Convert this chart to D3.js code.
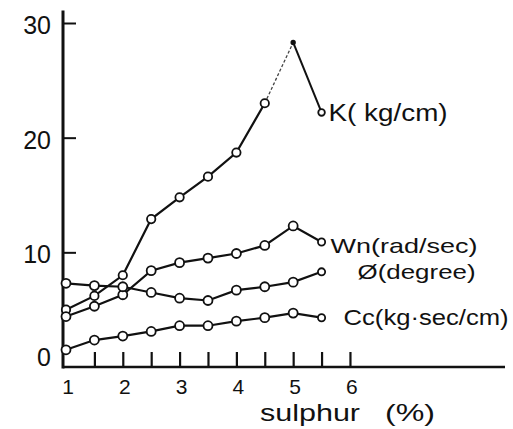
<!DOCTYPE html>
<html>
<head>
<meta charset="utf-8">
<script src="https://cdn.jsdelivr.net/npm/d3@7"></script>
<style>
  html, body { margin: 0; padding: 0; background: #fff; }
  svg { display: block; }
</style>
</head>
<body>
<div id="chart"></div>
<script>
// Sulphur content vs. dynamic properties (scanned line chart).

const sulphur = [1, 1.5, 2, 2.5, 3, 3.5, 4, 4.5, 5, 5.5];

const kValues   = [5.0, 6.2, 8.0, 12.9, 14.8, 16.6, 18.7, 23.0, 28.3, 22.2];
const wnValues  = [4.4, 5.3, 6.3, 8.4, 9.1, 9.5, 9.9, 10.6, 12.3, 10.9];
const phiValues = [7.3, 7.1, 7.0, 6.5, 6.0, 5.8, 6.7, 7.0, 7.4, 8.3];
const ccValues  = [1.5, 2.35, 2.7, 3.1, 3.6, 3.6, 4.0, 4.3, 4.7, 4.3];

const seriesNames = ["K( kg/cm)", "Wn(rad/sec)", "\u00D8(degree)", "Cc(kg\u00B7sec/cm)"];

const yTickValues = [0, 10, 20, 30];
const xTickValues = [1, 1.5, 2, 2.5, 3, 3.5, 4, 4.5, 5, 5.5, 6];
const xLabelValues = [1, 2, 3, 4, 5, 6];
const xTitle = "sulphur";
const xUnit = "(%)";

const W = 513, H = 429;
const INK = "#111";
const FONT = "'Liberation Sans', Arial, sans-serif";

const x = d3.scaleLinear().domain([1, 8.73]).range([66, 505]);
const y = d3.scaleLinear().domain([0, 30]).range([367, 23]);

const svg = d3.select("#chart").append("svg")
  .attr("width", W).attr("height", H)
  .attr("viewBox", `0 0 ${W} ${H}`)
  .attr("font-family", FONT);

// Axes: ticks point inward, the frame line is drawn separately so it
// can run past the last label like in the scan.
const gx = svg.append("g")
  .attr("transform", `translate(0,${y(0)})`)
  .call(d3.axisBottom(x)
    .tickValues(xTickValues.slice(1))
    .tickSizeInner(-15).tickSizeOuter(0)
    .tickFormat(""));
gx.select(".domain").remove();
gx.selectAll(".tick line").attr("stroke", INK).attr("stroke-width", 2.2);

const gy = svg.append("g")
  .attr("transform", `translate(${x(1) - 3},0)`)
  .call(d3.axisLeft(y)
    .tickValues(yTickValues)
    .tickSizeInner(-13).tickSizeOuter(0)
    .tickPadding(12)
    .tickFormat(d3.format("d")));
gy.select(".domain").remove();
gy.selectAll(".tick line")
  .attr("stroke", INK).attr("stroke-width", 2)
  .attr("display", (d) => (d === 0 ? "none" : null));
gy.selectAll(".tick text")
  .attr("font-family", FONT)
  .attr("font-size", 25)
  .attr("fill", INK)
  .attr("dy", (d) => (d === 0 ? "-0.05em" : "0.42em"));

// Frame lines
svg.append("line")
  .attr("x1", x(1) - 3).attr("x2", x(1) - 3)
  .attr("y1", y(31.1)).attr("y2", y(0) + 1.5)
  .attr("stroke", INK).attr("stroke-width", 3);
svg.append("line")
  .attr("x1", x(1) - 3).attr("x2", x.range()[1])
  .attr("y1", y(0)).attr("y2", y(0))
  .attr("stroke", INK).attr("stroke-width", 2.6);

// X tick labels and title
svg.append("g").selectAll("text")
  .data(xLabelValues)
  .join("text")
    .attr("x", (d) => x(d) + 2)
    .attr("y", 394)
    .attr("text-anchor", "middle")
    .attr("font-size", 21)
    .attr("fill", INK)
    .text((d) => d);

const title = svg.append("text")
  .attr("y", 421)
  .attr("font-size", 24)
  .attr("fill", INK);
title.append("tspan").attr("x", 260).attr("textLength", 100).attr("lengthAdjust", "spacingAndGlyphs").text(xTitle);
title.append("tspan").attr("x", 385).attr("textLength", 50).attr("lengthAdjust", "spacingAndGlyphs").text(xUnit);

// Series
const series = [
  { name: seriesNames[0], values: kValues,   dx: 7,  dy: 9,  size: 23, len: 119, r: 4.2, endR: 3.3 },
  { name: seriesNames[1], values: wnValues,  dx: 9,  dy: 11, size: 21, len: 147, r: 4.5, endR: 3.6 },
  { name: seriesNames[2], values: phiValues, dx: 36, dy: 7,  size: 21, len: 118, r: 4.5, endR: 3.6 },
  { name: seriesNames[3], values: ccValues,  dx: 22, dy: 7,  size: 22, len: 165, r: 4.5, endR: 3.6 },
];

const line = d3.line().x((d) => x(d[0])).y((d) => y(d[1]));

for (const s of series) {
  const pts = sulphur.map((v, i) => [v, s.values[i]]);
  const g = svg.append("g").attr("class", "series");

  if (s === series[0]) {
    // The scan is faded around the K peak: draw that stretch lighter.
    g.append("path").datum(pts.slice(0, 8))
      .attr("d", line).attr("fill", "none")
      .attr("stroke", INK).attr("stroke-width", 2.2);
    g.append("path").datum(pts.slice(7, 9))
      .attr("d", line).attr("fill", "none")
      .attr("stroke", "#444").attr("stroke-width", 1.3)
      .attr("stroke-dasharray", "3 2");
    g.append("path").datum(pts.slice(8))
      .attr("d", line).attr("fill", "none")
      .attr("stroke", INK).attr("stroke-width", 2);
  } else {
    g.append("path").datum(pts)
      .attr("d", line).attr("fill", "none")
      .attr("stroke", INK).attr("stroke-width", 2.2);
  }

  g.selectAll("circle")
    .data(pts)
    .join("circle")
      .attr("cx", (d) => x(d[0]))
      .attr("cy", (d) => y(d[1]))
      .attr("r", (d, i) => (i === pts.length - 1 ? s.endR : (s === series[0] && i === 8 ? 1.8 : s.r)))
      .attr("fill", (d, i) => (s === series[0] && i === 8 ? INK : "#fff"))
      .attr("stroke", INK)
      .attr("stroke-width", 1.8);

  const last = pts[pts.length - 1];
  g.append("text")
    .attr("x", x(last[0]) + s.dx)
    .attr("y", y(last[1]) + s.dy)
    .attr("font-size", s.size)
    .attr("fill", INK)
    .attr("textLength", s.len)
    .attr("lengthAdjust", "spacingAndGlyphs")
    .text(s.name);
}
</script>
</body>
</html>
